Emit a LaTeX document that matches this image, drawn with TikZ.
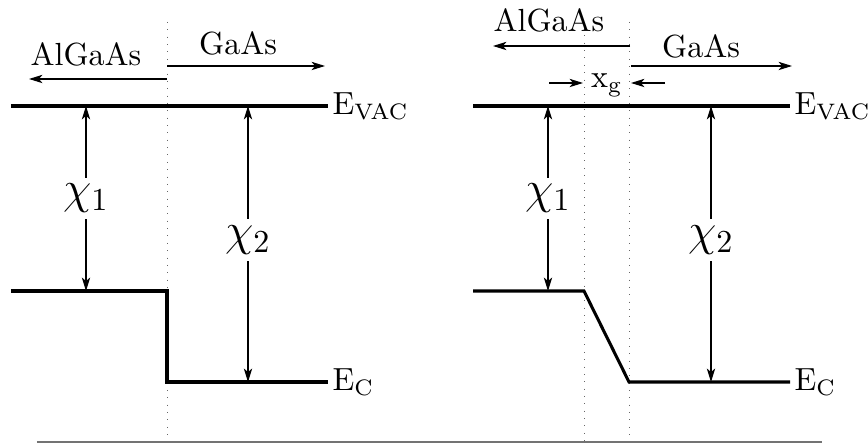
\documentclass[tikz,border=0pt]{standalone}
\usepackage{amsmath}
\usetikzlibrary{arrows.meta}

\begin{document}
\begin{tikzpicture}[x=0.3125pt, y=-0.3125pt,
    band/.style={line width=0.95pt},
    dim/.style={line width=0.35pt, {Stealth[length=4.2pt,width=2.6pt,inset=1.1pt]}-{Stealth[length=4.2pt,width=2.6pt,inset=1.1pt]}},
    side/.style={line width=0.35pt, -{Stealth[length=4.2pt,width=2.6pt,inset=1.1pt]}},
    iface/.style={black!60, dotted, line width=0.3pt},
    gap/.style={fill=white, inner sep=2pt, font=\Large},
    lvl/.style={right, inner sep=1pt}]
    \useasboundingbox (0,0) rectangle (868,446);

    % First diagram: abrupt step
    \begin{scope}
        % Interface
        \coordinate (l-if-top) at (167,22);
        \coordinate (l-if-bot) at (167,446);
        \draw[iface] (l-if-top) -- (l-if-bot);

        % Bands
        \coordinate (l-vac-w) at (11,106);
        \coordinate (l-vac-e) at (328,106);
        \coordinate (l-c1-w) at (11,291);
        \coordinate (l-c1-e) at (167,291);
        \coordinate (l-c2-w) at (167,382);
        \coordinate (l-c2-e) at (328,382);
        \draw[band] (l-vac-w) -- (l-vac-e) node[lvl] (l-evac) {$\mathrm{E_{VAC}}$};
        \draw[band] (l-c1-w) -- (l-c1-e) -- (l-c2-w) -- (l-c2-e) node[lvl] (l-ec) {$\mathrm{E_C}$};

        % Layers
        \coordinate (l-al-o) at (167,79);
        \coordinate (l-al-e) at (29,79);
        \coordinate (l-ga-o) at (167,66);
        \coordinate (l-ga-e) at (325,66);
        \draw[side] (l-al-o) -- (l-al-e);
        \draw[side] (l-ga-o) -- (l-ga-e);
        \node (l-algaas) at (86,54) {AlGaAs};
        \node (l-gaas) at (238,43) {GaAs};

        % Affinities
        \coordinate (l-x1-t) at (86,106);
        \coordinate (l-x1-b) at (86,291);
        \coordinate (l-x2-t) at (248,106);
        \coordinate (l-x2-b) at (248,382);
        \draw[dim] (l-x1-t) -- node[gap] (l-chi1) {$\chi_1$} (l-x1-b);
        \draw[dim] (l-x2-t) -- node[gap, pos=0.485] (l-chi2) {$\chi_2$} (l-x2-b);
    \end{scope}

    % Second diagram: graded interface
    \begin{scope}
        % Interfaces
        \coordinate (r-ia-top) at (584,28);
        \coordinate (r-ia-bot) at (584,446);
        \coordinate (r-ib-top) at (629,22);
        \coordinate (r-ib-bot) at (629,446);
        \draw[iface] (r-ia-top) -- (r-ia-bot);
        \draw[iface] (r-ib-top) -- (r-ib-bot);

        % Bands
        \coordinate (r-vac-w) at (473,106);
        \coordinate (r-vac-e) at (790,106);
        \coordinate (r-c1-w) at (473,291);
        \coordinate (r-c1-e) at (584,291);
        \coordinate (r-c2-w) at (629,382);
        \coordinate (r-c2-e) at (790,382);
        \draw[band] (r-vac-w) -- (r-vac-e) node[lvl] (r-evac) {$\mathrm{E_{VAC}}$};
        \draw[band] (r-c1-w) -- (r-c1-e) -- (r-c2-w) -- (r-c2-e) node[lvl] (r-ec) {$\mathrm{E_C}$};

        % Layers
        \coordinate (r-al-o) at (630,46);
        \coordinate (r-al-e) at (493,46);
        \coordinate (r-ga-o) at (631,66);
        \coordinate (r-ga-e) at (792,66);
        \draw[side] (r-al-o) -- (r-al-e);
        \draw[side] (r-ga-o) -- (r-ga-e);
        \node (r-algaas) at (549,20) {AlGaAs};
        \node (r-gaas) at (701,46) {GaAs};

        % Grading width
        \coordinate (r-xg-a) at (549,83);
        \coordinate (r-xg-b) at (583,83);
        \coordinate (r-xg-c) at (665,83);
        \coordinate (r-xg-d) at (631,83);
        \draw[side] (r-xg-a) -- (r-xg-b);
        \draw[side] (r-xg-c) -- (r-xg-d);
        \node (r-xg) at (607,85) {$\mathrm{x_g}$};

        % Affinities
        \coordinate (r-x1-t) at (548,106);
        \coordinate (r-x1-b) at (548,291);
        \coordinate (r-x2-t) at (711,106);
        \coordinate (r-x2-b) at (711,382);
        \draw[dim] (r-x1-t) -- node[gap] (r-chi1) {$\chi_1$} (r-x1-b);
        \draw[dim] (r-x2-t) -- node[gap, pos=0.485] (r-chi2) {$\chi_2$} (r-x2-b);
    \end{scope}

    % Base line
    \coordinate (base-w) at (37,442);
    \coordinate (base-e) at (822,442);
    \draw[black!55, line width=0.6pt] (base-w) -- (base-e);
\end{tikzpicture}
\end{document}
